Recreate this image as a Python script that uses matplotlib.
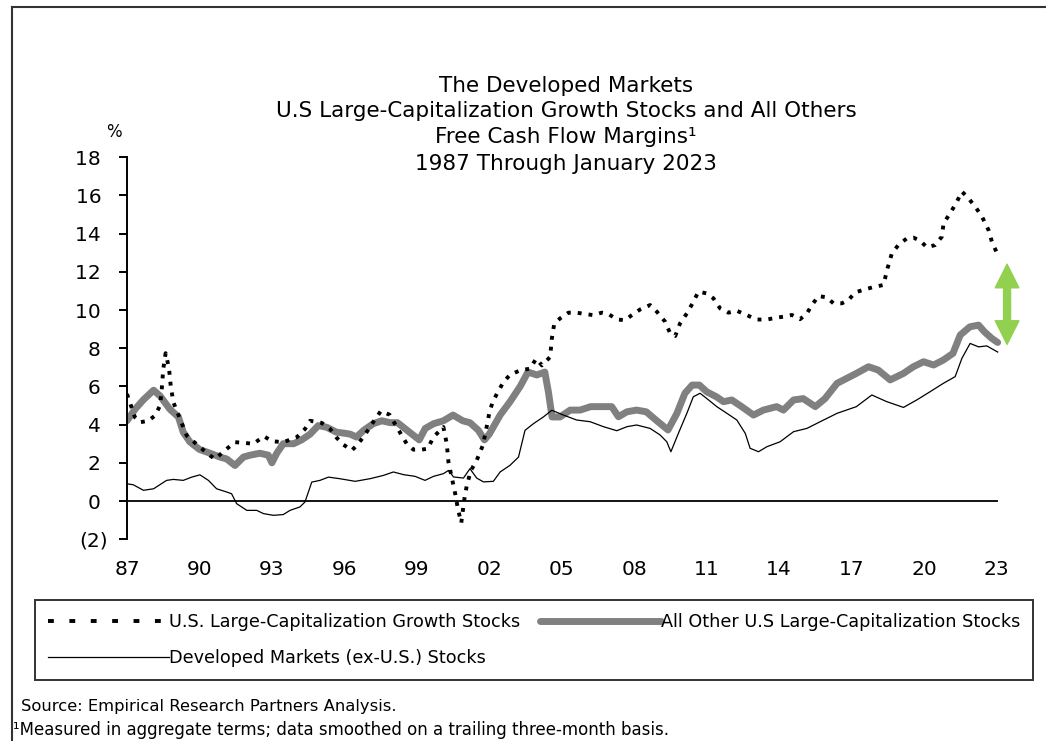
import numpy as np
import matplotlib
matplotlib.use("Agg")
import matplotlib.pyplot as plt
from matplotlib.lines import Line2D

plt.rcParams['font.family'] = ['DejaVu Sans']

# ---- data (decimal years, free cash flow margin %) ----
growth_x = [1987.0, 1987.33, 1987.54, 1987.88, 1988.16, 1988.37, 1988.44, 1988.5, 1988.6, 1988.74,
            1988.81, 1988.92, 1989.47, 1990.02, 1990.44, 1990.64, 1991.13, 1991.47, 1991.89, 1992.23,
            1992.67, 1993.0, 1993.47, 1994.03, 1994.37, 1994.58, 1995.06, 1995.41, 1995.69, 1995.96,
            1996.31, 1996.51, 1996.79, 1997.2, 1997.51, 1997.87, 1998.17, 1998.58, 1998.86, 1999.21,
            1999.45, 1999.69, 2000.1, 2000.24, 2000.31, 2000.59, 2000.7, 2000.84, 2000.96, 2001.07,
            2001.24, 2001.48, 2001.73, 2001.85, 2002.0, 2002.13, 2002.35, 2002.59, 2002.86, 2003.28,
            2003.69, 2003.94, 2004.18, 2004.52, 2004.59, 2004.69, 2004.93, 2005.28, 2005.62, 2005.97,
            2006.31, 2006.66, 2006.94, 2007.28, 2007.63, 2007.9, 2008.25, 2008.66, 2008.94, 2009.28,
            2009.49, 2009.7, 2009.9, 2010.18, 2010.43, 2010.66, 2011.0, 2011.28, 2011.56, 2011.9,
            2012.25, 2012.66, 2013.08, 2013.49, 2013.9, 2014.18, 2014.53, 2014.87, 2015.15, 2015.36,
            2015.63, 2015.98, 2016.25, 2016.6, 2016.87, 2017.15, 2017.5, 2017.91, 2018.32, 2018.49,
            2018.67, 2018.94, 2019.29, 2019.56, 2019.84, 2020.12, 2020.46, 2020.74, 2020.81, 2021.08,
            2021.33, 2021.57, 2021.84, 2022.12, 2022.4, 2022.67, 2022.81, 2023.05]
growth_y = [5.6, 4.38, 4.12, 4.2, 4.47, 5.0, 5.86, 6.9, 7.74, 6.94,
            6.03, 5.17, 3.43, 2.82, 2.38, 2.2, 2.73, 3.08, 3.04, 2.99,
            3.39, 3.13, 3.08, 3.34, 3.77, 4.2, 4.09, 3.77, 3.3, 2.95,
            2.65, 2.91, 3.35, 4.14, 4.71, 4.52, 3.87, 3.0, 2.69, 2.69,
            2.74, 3.35, 3.87, 3.0, 2.04, 0.38, -0.4, -1.15, 0.03, 0.82,
            1.6, 2.13, 2.9, 3.6, 4.6, 5.15, 5.7, 6.23, 6.61, 6.84,
            6.93, 7.45, 7.1, 7.54, 8.5, 9.28, 9.56, 9.86, 9.86, 9.79,
            9.73, 9.86, 9.79, 9.5, 9.47, 9.73, 10.03, 10.26, 9.91, 9.39,
            8.78, 8.64, 9.3, 9.82, 10.38, 10.96, 10.87, 10.61, 10.08, 9.86,
            9.96, 9.73, 9.5, 9.5, 9.6, 9.65, 9.74, 9.52, 9.82, 10.26,
            10.73, 10.66, 10.35, 10.35, 10.52, 10.92, 11.06, 11.2, 11.31, 12.18,
            12.97, 13.4, 13.75, 13.79, 13.63, 13.28, 13.4, 13.84, 14.54, 15.06,
            15.59, 16.2, 15.85, 15.41, 14.89, 14.19, 13.58, 12.9]

other_x = [1987.0, 1987.33, 1987.68, 1988.1, 1988.37, 1988.78, 1989.13, 1989.33, 1989.6, 1990.0,
           1990.44, 1990.85, 1991.13, 1991.47, 1991.82, 1992.1, 1992.5, 1992.85, 1993.0, 1993.2,
           1993.47, 1993.9, 1994.23, 1994.58, 1994.92, 1995.27, 1995.68, 1996.0, 1996.24, 1996.5,
           1996.8, 1997.2, 1997.55, 1997.9, 1998.2, 1998.6, 1999.1, 1999.35, 1999.7, 2000.1,
           2000.5, 2000.9, 2001.2, 2001.55, 2001.8, 2002.0, 2002.45, 2002.86, 2003.28, 2003.6,
           2003.97, 2004.3, 2004.45, 2004.6, 2004.93, 2005.35, 2005.76, 2006.2, 2006.6, 2007.07,
           2007.35, 2007.7, 2008.1, 2008.5, 2008.9, 2009.4, 2009.77, 2010.1, 2010.4, 2010.7,
           2011.0, 2011.4, 2011.7, 2012.04, 2012.45, 2012.94, 2013.35, 2013.9, 2014.18, 2014.6,
           2015.0, 2015.5, 2015.9, 2016.4, 2016.8, 2017.2, 2017.7, 2018.1, 2018.6, 2019.15,
           2019.56, 2019.98, 2020.4, 2020.8, 2021.2, 2021.5, 2021.9, 2022.26, 2022.5, 2022.8, 2023.05]
other_y = [4.2, 4.8, 5.3, 5.8, 5.5, 4.8, 4.4, 3.6, 3.1, 2.7,
           2.5, 2.3, 2.2, 1.86, 2.3, 2.4, 2.5, 2.4, 2.0, 2.5,
           3.0, 3.0, 3.2, 3.5, 3.95, 3.86, 3.6, 3.55, 3.5, 3.35,
           3.7, 4.05, 4.2, 4.1, 4.1, 3.7, 3.2, 3.8, 4.05, 4.2,
           4.5, 4.2, 4.1, 3.7, 3.2, 3.5, 4.5, 5.2, 6.0, 6.75,
           6.6, 6.75, 5.7, 4.4, 4.4, 4.76, 4.76, 4.94, 4.94, 4.94,
           4.41, 4.67, 4.76, 4.67, 4.24, 3.72, 4.59, 5.64, 6.07, 6.07,
           5.72, 5.46, 5.2, 5.29, 4.94, 4.5, 4.76, 4.94, 4.76, 5.29,
           5.36, 4.94, 5.36, 6.16, 6.42, 6.68, 7.03, 6.86, 6.34, 6.68,
           7.03, 7.29, 7.12, 7.38, 7.73, 8.69, 9.12, 9.21, 8.86, 8.52, 8.3]

dev_x = [1987.0, 1987.26, 1987.68, 1988.1, 1988.64, 1988.92, 1989.33, 1989.68, 1990.02, 1990.37,
         1990.71, 1991.13, 1991.33, 1991.54, 1991.96, 1992.37, 1992.65, 1993.06, 1993.47, 1993.75,
         1994.16, 1994.37, 1994.65, 1994.99, 1995.34, 1995.8, 1996.45, 1997.07, 1997.62, 1998.03,
         1998.45, 1998.93, 1999.34, 1999.69, 2000.1, 2000.31, 2000.52, 2000.93, 2001.2, 2001.48,
         2001.76, 2002.17, 2002.45, 2002.86, 2003.21, 2003.48, 2003.83, 2004.24, 2004.59, 2005.07,
         2005.62, 2006.18, 2006.73, 2007.28, 2007.7, 2008.1, 2008.66, 2009.07, 2009.35, 2009.52,
         2009.83, 2010.18, 2010.45, 2010.73, 2011.08, 2011.42, 2011.84, 2012.25, 2012.6, 2012.8,
         2013.15, 2013.49, 2014.04, 2014.6, 2015.15, 2015.7, 2016.4, 2017.2, 2017.84, 2018.46,
         2019.15, 2019.7, 2020.25, 2020.8, 2021.29, 2021.57, 2021.91, 2022.26, 2022.6, 2023.05]
dev_y = [0.9, 0.85, 0.56, 0.64, 1.08, 1.13, 1.08, 1.25, 1.37, 1.08,
         0.64, 0.47, 0.38, -0.14, -0.49, -0.49, -0.66, -0.75, -0.71, -0.49,
         -0.31, -0.05, 0.99, 1.08, 1.25, 1.17, 1.03, 1.17, 1.34, 1.52,
         1.38, 1.29, 1.08, 1.29, 1.43, 1.6, 1.26, 1.2, 1.69, 1.2,
         1.0, 1.03, 1.52, 1.87, 2.3, 3.7, 4.05, 4.4, 4.75, 4.5,
         4.24, 4.15, 3.89, 3.68, 3.89, 3.98, 3.8, 3.46, 3.1, 2.58,
         3.54, 4.59, 5.46, 5.64, 5.29, 4.94, 4.59, 4.24, 3.54, 2.76,
         2.58, 2.84, 3.1, 3.63, 3.8, 4.15, 4.59, 4.94, 5.55, 5.2,
         4.9, 5.29, 5.72, 6.16, 6.51, 7.47, 8.25, 8.07, 8.12, 7.8]

series_labels = ["U.S. Large-Capitalization Growth Stocks",
                 "All Other U.S Large-Capitalization Stocks",
                 "Developed Markets (ex-U.S.) Stocks"]

y_ticks = [-2, 0, 2, 4, 6, 8, 10, 12, 14, 16, 18]
y_tick_labels = ["(2)", "0 ", "2 ", "4 ", "6 ", "8 ", "10 ", "12 ", "14 ", "16 ", "18 "]
x_ticks = [1987, 1990, 1993, 1996, 1999, 2002, 2005, 2008, 2011, 2014, 2017, 2020, 2023]
x_tick_labels = ["87", "90", "93", "96", "99", "02", "05", "08", "11", "14", "17", "20", "23"]

title_lines = ["The Developed Markets",
               "U.S Large-Capitalization Growth Stocks and All Others",
               "Free Cash Flow Margins\u00b9",
               "1987 Through January 2023"]
source_text = "Source: Empirical Research Partners Analysis."
note_text = "\u00b9Measured in aggregate terms; data smoothed on a trailing three-month basis."

W, H = 1046, 741
fig = plt.figure(figsize=(W / 100, H / 100), dpi=100)
fig.patch.set_facecolor('white')

ax = fig.add_axes([127 / W, 1 - 539.2 / H, (1020.6 - 127) / W, 382 / H])
ax.set_xlim(1987, 2024)
ax.set_ylim(-2, 18)

grey = '#808080'
ax.plot(other_x, other_y, color=grey, lw=5, solid_capstyle='round',
        solid_joinstyle='round', zorder=2)
ax.plot(dev_x, dev_y, color='black', lw=0.9, zorder=3)
ax.plot(growth_x, growth_y, color='black', lw=2.8, linestyle=(0, (1, 1.8)),
        dash_capstyle='butt', zorder=4)
ax.hlines(0, growth_x[0], growth_x[-1], color='black', lw=1.3, zorder=1)

# axis cosmetics
for s in ['top', 'right', 'bottom']:
    ax.spines[s].set_visible(False)
ax.spines['left'].set_linewidth(1.4)
ax.set_yticks(y_ticks)
ax.set_yticklabels(y_tick_labels)
ax.set_xticks(x_ticks)
ax.set_xticklabels(x_tick_labels)
ax.tick_params(axis='y', direction='out', length=6, width=1.4, pad=8, labelsize=14.5)
ax.tick_params(axis='x', length=0, pad=15, labelsize=14.5)
ax.text(-0.015, 1.065, "%", transform=ax.transAxes, ha='center', va='center', fontsize=12)

# green arrow marking the gap
mid = (12.4 + 8.2) / 2
for end in (12.4, 8.2):
    ax.annotate("", xy=(2023.44, end), xytext=(2023.44, mid),
                arrowprops=dict(arrowstyle="simple,head_length=1.7,head_width=1.7,tail_width=0.5",
                                color='#92D050', shrinkA=0, shrinkB=0, mutation_scale=10),
                annotation_clip=False, zorder=5)

# title
title_y = [86, 111, 137, 164]
for line, yy in zip(title_lines, title_y):
    fig.text(566 / W, 1 - yy / H, line, ha='center', va='center', fontsize=15.5)

# legend
handles = [Line2D([], [], color='black', lw=2.8, linestyle=(0, (1.5, 4)), dash_capstyle='butt'),
           Line2D([], [], color='black', lw=0.9),
           Line2D([], [], color=grey, lw=5, solid_capstyle='round')]
labels = [series_labels[0], series_labels[2], series_labels[1]]
leg = fig.legend(handles, labels, ncol=2, mode='expand', loc='upper left',
                 bbox_to_anchor=(35 / W, 1 - 679 / H, (1033 - 35) / W, 79 / H),
                 borderaxespad=0, fontsize=12.7, handlelength=6.85, handletextpad=0.0,
                 labelspacing=1.05, borderpad=0.72, frameon=True, fancybox=False)
leg.get_frame().set_edgecolor('black')
leg.get_frame().set_linewidth(1.4)

# footer
fig.text(21 / W, 1 - 707 / H, source_text, ha='left', va='center', fontsize=11.8)
fig.text(13 / W, 1 - 730 / H, note_text, ha='left', va='center', fontsize=12)

# outer frame (runs off right and bottom edges)
fig.add_artist(Line2D([12 / W, 12 / W], [0, 1 - 7 / H], color='#333333', lw=1.5))
fig.add_artist(Line2D([12 / W, 1], [1 - 7 / H, 1 - 7 / H], color='#333333', lw=1.5))

fig.savefig('out.png', dpi=100)
